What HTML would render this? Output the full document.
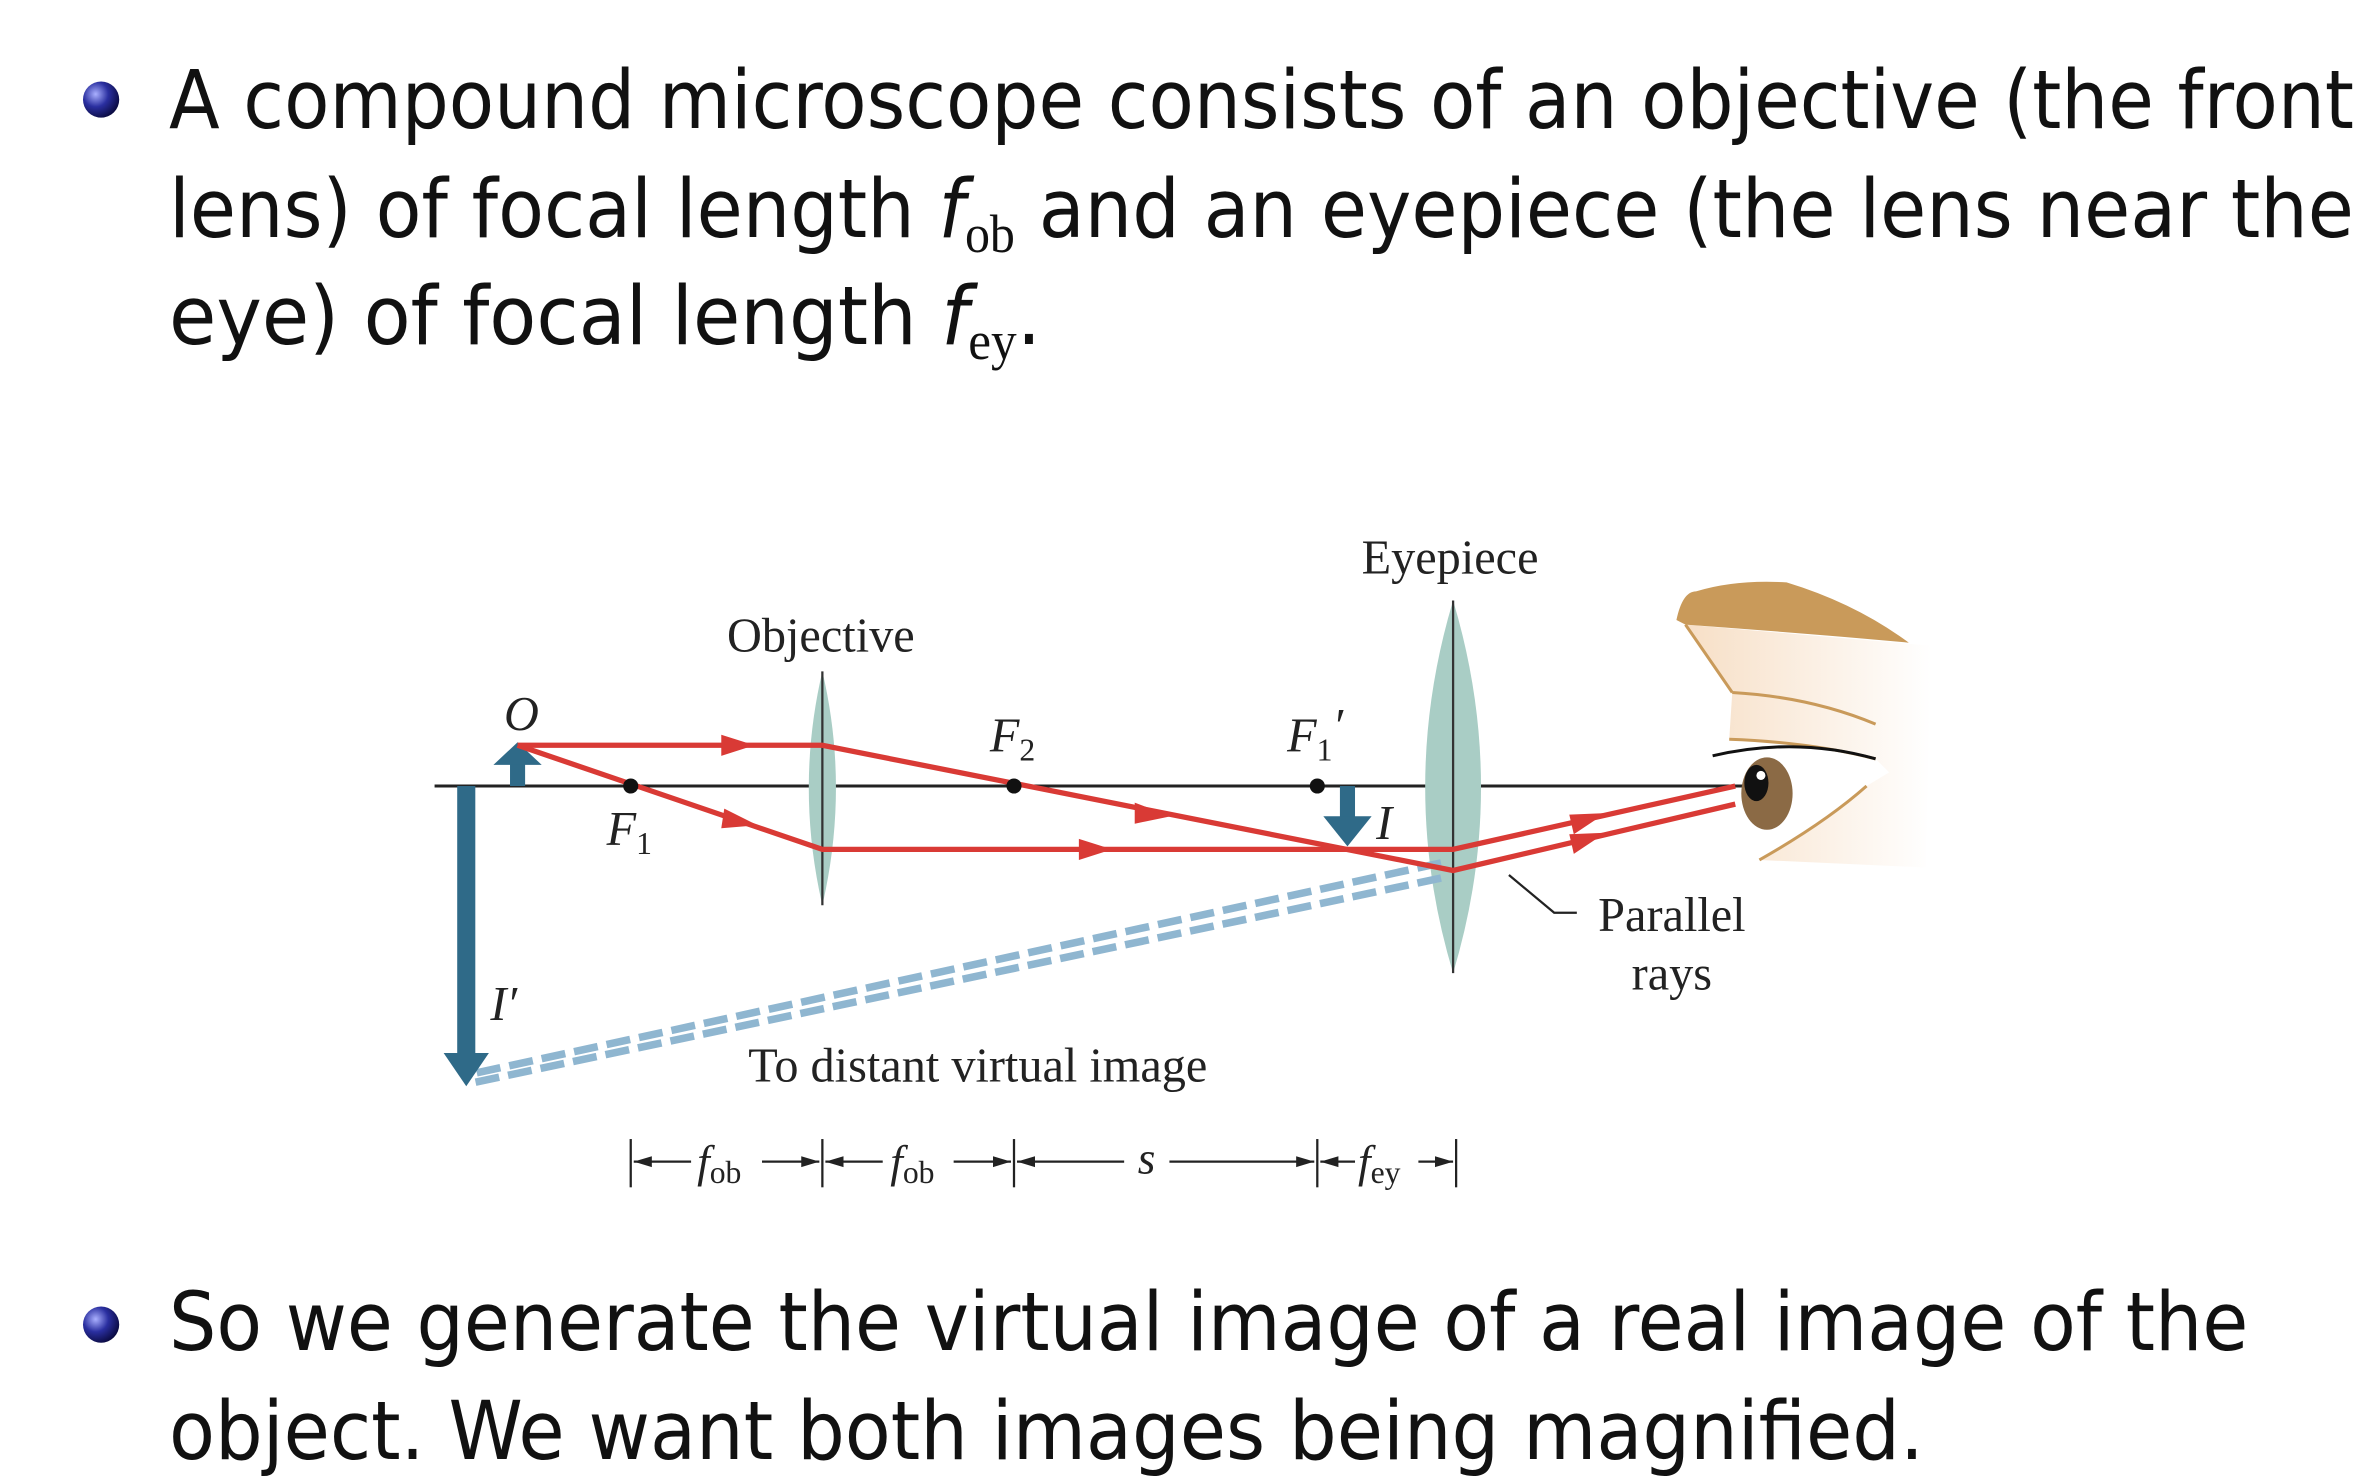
<!DOCTYPE html>
<html><head><meta charset="utf-8"><style>
html,body{margin:0;padding:0;background:#fff;}
svg{display:block;}
.t{font-family:"DejaVu Sans","Liberation Sans",sans-serif;font-size:54px;fill:#111;}
.s{font-family:"Liberation Serif",serif;fill:#222;}
</style></head><body>
<svg width="2366" height="1480" viewBox="0 0 1568 981" preserveAspectRatio="none" xmlns="http://www.w3.org/2000/svg">
<defs>
<radialGradient id="ball" cx="0.35" cy="0.35" r="0.7"><stop offset="0" stop-color="#aab0ff"/><stop offset="0.5" stop-color="#2a2fa0"/><stop offset="1" stop-color="#0a0a40"/></radialGradient>
<linearGradient id="skin" x1="0" x2="1"><stop offset="0" stop-color="#f7dfc6"/><stop offset="1" stop-color="#fff"/></linearGradient>
<marker id="da" viewBox="0 0 10 10" refX="10" refY="5" markerWidth="8" markerHeight="8" orient="auto-start-reverse"><path d="M0,2 L10,5 L0,8 z" fill="#222"/></marker>
</defs>
<circle cx="67" cy="66" r="12" fill="url(#ball)"/>
<text class="t" x="112" y="85" textLength="1448" lengthAdjust="spacingAndGlyphs">A compound microscope consists of an objective (the front</text>
<text class="t" x="112" y="157" textLength="1448" lengthAdjust="spacingAndGlyphs">lens) of focal length <tspan font-style="italic">f</tspan><tspan font-family="Liberation Serif" font-size="36" dy="10">ob</tspan><tspan dy="-10"> and an eyepiece (the lens near the</tspan></text>
<text class="t" x="112" y="228" textLength="578" lengthAdjust="spacingAndGlyphs">eye) of focal length <tspan font-style="italic">f</tspan><tspan font-family="Liberation Serif" font-size="36" dy="10">ey</tspan><tspan dy="-10">.</tspan></text>
<circle cx="67" cy="878" r="12" fill="url(#ball)"/>
<text class="t" x="112" y="895" textLength="1378" lengthAdjust="spacingAndGlyphs">So we generate the virtual image of a real image of the</text>
<text class="t" x="112" y="967" textLength="1163" lengthAdjust="spacingAndGlyphs">object.  We want both images being magnified.</text>

<g>
<line x1="288" y1="521" x2="1160" y2="521" stroke="#222" stroke-width="2"/>
<path d="M545,445 Q563,522 545,600 Q527,522 545,445z" fill="#a9cdc5"/>
<line x1="545" y1="445" x2="545" y2="600" stroke="#333" stroke-width="1.5"/>
<path d="M963,398 Q1000,522 963,645 Q926,522 963,398z" fill="#a9cdc5"/>
<line x1="963" y1="398" x2="963" y2="645" stroke="#333" stroke-width="1.5"/>
<g stroke="#8fb6d0" stroke-width="5" stroke-dasharray="16,6" fill="none">
<line x1="955" y1="572" x2="312" y2="712"/>
<line x1="955" y1="582" x2="312" y2="718"/>
</g>
<g><rect x="303" y="521" width="12" height="180" fill="#2f6a88"/><path d="M294,698 L324,698 L309,720z" fill="#2f6a88"/></g>
<g><rect x="338" y="505" width="10" height="16" fill="#2f6a88"/><path d="M327,507 L359,507 L343,492z" fill="#2f6a88"/></g>
<g><rect x="888" y="521" width="10" height="22" fill="#2f6a88"/><path d="M877,541 L909,541 L893,561z" fill="#2f6a88"/></g>
<g stroke="#d93a35" stroke-width="3.5" fill="none">
<polyline points="343,494 545,494 963,577 1150,533"/>
<polyline points="343,494 545,563 963,563 1150,521"/>
</g>
<g fill="#d93a35">
<path d="M478,487 L500,494 L478,501z"/>
<path d="M480,536 L502,547 L478,549z"/>
<path d="M715,556 L737,563 L715,570z"/>
<path d="M752,532 L776,541 L752,546z"/>
<path d="M1040,540 L1064,539 L1043,553z"/>
<path d="M1040,553 L1064,552 L1043,566z"/>
</g>
<circle cx="418" cy="521" r="5" fill="#111"/>
<circle cx="672" cy="521" r="5" fill="#111"/>
<circle cx="873" cy="521" r="5" fill="#111"/>
<g class="s" font-size="32">
<text x="334" y="484" font-style="italic">O</text>
<text x="402" y="560" font-style="italic">F<tspan font-size="21" dy="6" font-style="normal">1</tspan></text>
<text x="656" y="498" font-style="italic">F<tspan font-size="21" dy="6" font-style="normal">2</tspan></text>
<text x="853" y="498" font-style="italic">F<tspan font-size="21" dy="6" font-style="normal">1</tspan><tspan dy="-12">′</tspan></text>
<text x="912" y="556" font-style="italic">I</text>
<text x="325" y="676" font-style="italic">I′</text>
<text x="544" y="432" text-anchor="middle">Objective</text>
<text x="961" y="380" text-anchor="middle">Eyepiece</text>
<text x="1108" y="617" text-anchor="middle">Parallel</text>
<text x="1108" y="656" text-anchor="middle">rays</text>
<text x="648" y="717" text-anchor="middle">To distant virtual image</text>
</g>
<polyline points="1000,580 1030,605 1045,605" stroke="#222" stroke-width="1.5" fill="none"/>
<g stroke="#222" stroke-width="1.5">
<line x1="418" y1="755" x2="418" y2="787"/><line x1="545" y1="755" x2="545" y2="787"/><line x1="672" y1="755" x2="672" y2="787"/><line x1="873" y1="755" x2="873" y2="787"/><line x1="965" y1="755" x2="965" y2="787"/>
<line x1="458" y1="770" x2="420" y2="770" marker-end="url(#da)"/><line x1="505" y1="770" x2="543" y2="770" marker-end="url(#da)"/>
<line x1="585" y1="770" x2="547" y2="770" marker-end="url(#da)"/><line x1="632" y1="770" x2="670" y2="770" marker-end="url(#da)"/>
<line x1="745" y1="770" x2="674" y2="770" marker-end="url(#da)"/><line x1="775" y1="770" x2="871" y2="770" marker-end="url(#da)"/>
<line x1="898" y1="770" x2="875" y2="770" marker-end="url(#da)"/><line x1="940" y1="770" x2="963" y2="770" marker-end="url(#da)"/>
</g>
<g class="s" font-size="30" font-style="italic">
<text x="462" y="780">f<tspan font-size="21" font-style="normal" dy="4">ob</tspan></text>
<text x="590" y="780">f<tspan font-size="21" font-style="normal" dy="4">ob</tspan></text>
<text x="754" y="778">s</text>
<text x="900" y="780">f<tspan font-size="21" font-style="normal" dy="4">ey</tspan></text>
</g>
<g>
<path d="M1117,414 L1148,459 L1146,490 Q1200,492 1243,503 L1252,512 L1237,521 Q1210,545 1166,570 L1276,575 L1280,428 Z" fill="url(#skin)"/>
<path d="M1111,411 Q1115,392 1124,392 Q1150,384 1184,386 Q1230,400 1265,426 Q1200,420 1117,414 Z" fill="#c99a5a"/>
<path d="M1117,414 L1148,459 M1146,490 Q1200,492 1243,503 M1148,459 Q1200,462 1243,480" stroke="#c99a5a" stroke-width="2" fill="none"/>
<path d="M1237,521 Q1210,545 1166,570" stroke="#c99a5a" stroke-width="2" fill="none"/>
<ellipse cx="1171" cy="526" rx="17" ry="24" fill="#8b6a45"/>
<ellipse cx="1164" cy="519" rx="8" ry="12" fill="#111"/>
<circle cx="1167" cy="514" r="3" fill="#fff"/>
<path d="M1135,501 Q1190,488 1243,503" stroke="#111" stroke-width="2" fill="none"/>
</g>
</g>
</svg>
</body></html>
